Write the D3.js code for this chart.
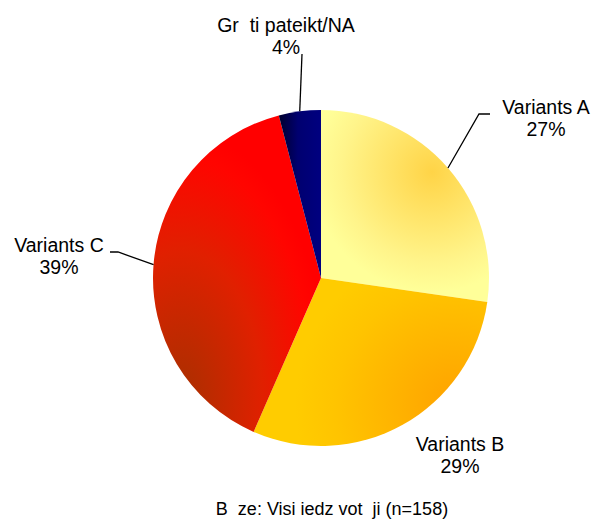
<!DOCTYPE html>
<html>
<head>
<meta charset="utf-8">
<script src="https://cdn.jsdelivr.net/npm/d3@7"></script>
<style>
  html, body { margin: 0; padding: 0; background: #fff; }
  svg text { font-family: "Liberation Sans", Arial, sans-serif; fill: #000; }
</style>
</head>
<body>
<svg id="chart" width="594" height="522"></svg>
<script>
// ---- data ----
const categories = ["Variants A", "Variants B", "Variants C", "Gr  ti pateikt/NA"];
const percents = [27, 29, 39, 4];
const percentLabels = ["27%", "29%", "39%", "4%"];
const footnote = "B  ze: Visi iedz vot  ji (n=158)";

// ---- layout ----
const W = 594, H = 522;
const cx = 321, cy = 278, R = 168;
const labelFont = 19.5, footFont = 18;

const svg = d3.select("#chart");
const defs = svg.append("defs");

// gradients (user space of the translated pie group, so coordinates are relative to the centre)
function radial(id, x, y, r, sy, stops) {
  x -= cx; y -= cy;
  const g = defs.append("radialGradient").attr("id", id)
    .attr("gradientUnits", "userSpaceOnUse")
    .attr("cx", x).attr("cy", y).attr("r", r)
    .attr("gradientTransform", `translate(${x},${y}) scale(1,${sy}) translate(${-x},${-y})`);
  stops.forEach(s => g.append("stop").attr("offset", s[0]).attr("stop-color", s[1]));
}
radial("gA", 432, 172, 150, 1, [[0, "#FFD447"], [0.6, "#FFF48A"], [0.8, "#FFFF99"], [1, "#FFFF99"]]);
radial("gB", 455, 405, 200, 1, [[0, "#FFA200"], [0.6, "#FFC400"], [0.8, "#FFCC00"], [1, "#FFCC00"]]);
radial("gC", 180, 400, 150, 1.8, [[0, "#A83000"], [0.55, "#E02000"], [0.9, "#FF0500"], [1, "#FF0000"]]);
const gD = defs.append("linearGradient").attr("id", "gD")
  .attr("gradientUnits", "userSpaceOnUse")
  .attr("x1", -46).attr("y1", 0).attr("x2", 0).attr("y2", 0);
[[0, "#000020"], [0.5, "#000070"], [1, "#000080"]].forEach(s =>
  gD.append("stop").attr("offset", s[0]).attr("stop-color", s[1]));
const fills = ["url(#gA)", "url(#gB)", "url(#gC)", "url(#gD)"];

const pie = d3.pie().sort(null).value(d => d);
const arcs = pie(percents);
const arc = d3.arc().innerRadius(0).outerRadius(R);

const g = svg.append("g").attr("transform", `translate(${cx},${cy})`);
g.selectAll("path").data(arcs).enter().append("path")
  .attr("d", arc)
  .attr("fill", (d, i) => fills[i]);

// label layout: text centre x, first baseline y, leader points after the arc point
const labelLayout = [
  { x: 546, y: 114, leader: [[479, 114], [490, 114]] },
  { x: 460, y: 451, leader: null },
  { x: 59,  y: 252, leader: [[118, 252], [110, 252]] },
  { x: 286, y: 32,  leader: [[302, 54]] }
];
const lineGap = 22;

arcs.forEach((d, i) => {
  const L = labelLayout[i];
  const mid = (d.startAngle + d.endAngle) / 2;
  const px = cx + R * Math.sin(mid), py = cy - R * Math.cos(mid);
  if (L.leader) {
    const pts = [[px, py]].concat(L.leader);
    svg.append("path")
      .attr("d", d3.line()(pts))
      .attr("fill", "none").attr("stroke", "#000").attr("stroke-width", 1.3);
  }
  const t = svg.append("text").attr("text-anchor", "middle")
    .attr("font-size", labelFont)
    .style("white-space", "pre");
  t.append("tspan").attr("x", L.x).attr("y", L.y).text(categories[i]);
  t.append("tspan").attr("x", L.x).attr("y", L.y + lineGap).text(percentLabels[i]);
});

svg.append("text").attr("x", 332).attr("y", 515)
  .attr("text-anchor", "middle").attr("font-size", footFont)
  .style("white-space", "pre")
  .text(footnote);
</script>
</body>
</html>
